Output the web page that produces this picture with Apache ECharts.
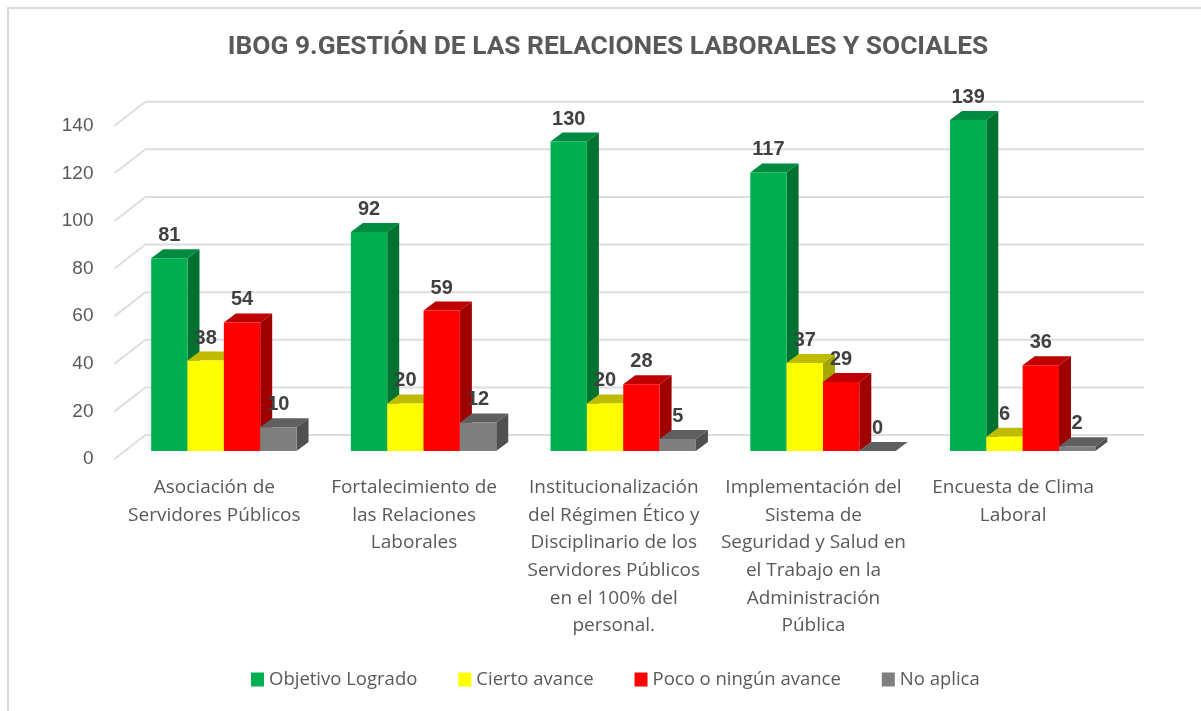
<!DOCTYPE html>
<html>
<head>
    <meta charset="utf-8">
    <title>IBOG 9</title>
    <script src="https://cdn.jsdelivr.net/npm/echarts@6/dist/echarts.min.js"></script>
    <style>
        html, body { margin: 0; padding: 0; background: #fff; }
    </style>
</head>
<body>
    <div id="chartmain" style="width:1201px; height:711px;"></div>
<script type="text/javascript">
    var categories = [
        'Asociación de\nServidores Públicos',
        'Fortalecimiento de\nlas Relaciones\nLaborales',
        'Institucionalización\ndel Régimen Ético y\nDisciplinario de los\nServidores Públicos\nen el 100% del\npersonal.',
        'Implementación del\nSistema de\nSeguridad y Salud en\nel Trabajo en la\nAdministración\nPública',
        'Encuesta de Clima\nLaboral'
    ];
    var logrado = [81, 92, 130, 117, 139];
    var cierto = [38, 20, 20, 37, 6];
    var poco = [54, 59, 28, 29, 36];
    var noAplica = [10, 12, 5, 0, 2];
    var yTicks = [0, 20, 40, 60, 80, 100, 120, 140];

    var faces = [
        { front: '#00B050', top: '#008A3F', side: '#00722F' },
        { front: '#FFFF00', top: '#BFBB00', side: '#A6A600' },
        { front: '#FF0000', top: '#BF0000', side: '#9F0000' },
        { front: '#7F7F7F', top: '#5F5F5F', side: '#505050' }
    ];

    // fake 3D: the floor runs 31px right and 24px up behind the axis
    var wallX = 31, wallY = -24;
    var barShiftX = 9.5, barShiftY = -8;
    var depthX = 12, depthY = -9;

    function poly(points, color, z2) {
        return { type: 'polygon', shape: { points: points }, style: { fill: color }, z2: z2 || 0, silent: true };
    }

    function barSeries(name, values, idx) {
        return {
            name: name,
            type: 'custom',
            itemStyle: { color: faces[idx].front },
            encode: { x: 0, y: 1 },
            data: values.map(function (v, i) { return [i, v]; }),
            z: 3,
            renderItem: function (params, api) {
                var band = api.size([1, 0])[0];
                var w = band * 0.182;
                var c = api.value(0);
                var val = api.value(1);
                var x0 = api.coord([c, 0])[0] + barShiftX - 2 * w + idx * w;
                var x1 = x0 + w;
                var yb = api.coord([c, 0])[1] + barShiftY;
                var yt = api.coord([c, val])[1] + barShiftY;
                var f = faces[idx];
                return {
                    type: 'group',
                    children: [
                        poly([[x1, yb], [x1 + depthX, yb + depthY], [x1 + depthX, yt + depthY], [x1, yt]], f.side),
                        poly([[x0, yt], [x0 + depthX, yt + depthY], [x1 + depthX, yt + depthY], [x1, yt]], f.top),
                        poly([[x0, yb], [x1, yb], [x1, yt], [x0, yt]], f.front),
                        {
                            type: 'text',
                            z2: 100,
                            silent: true,
                            style: {
                                text: String(val),
                                x: (x0 + x1) / 2,
                                y: yt - 22.5,
                                align: 'center',
                                verticalAlign: 'middle',
                                fill: '#404040',
                                font: 'bold 20px "Liberation Sans"'
                            }
                        }
                    ]
                };
            }
        };
    }

    var wallSeries = {
        type: 'custom',
        silent: true,
        z: 1,
        encode: { y: 0 },
        data: yTicks.map(function (t) { return [t]; }),
        renderItem: function (params, api) {
            var rect = params.coordSys;
            var y = api.coord([0, api.value(0)])[1];
            return {
                type: 'polyline',
                silent: true,
                shape: { points: [[rect.x, y], [rect.x + wallX, y + wallY], [rect.x + rect.width + wallX, y + wallY]] },
                style: { fill: null, stroke: '#DEDEDE', lineWidth: 2 }
            };
        }
    };

    var myChart = echarts.init(document.getElementById('chartmain'));
    myChart.setOption({
        animation: false,
        backgroundColor: '#fff',
        title: {
            text: 'IBOG 9.GESTIÓN DE LAS RELACIONES LABORALES Y SOCIALES',
            left: 603,
            top: 29,
            textAlign: 'center',
            textStyle: { fontFamily: 'Roboto', fontWeight: 'bold', fontSize: 26.3, color: '#595959' }
        },
        legend: {
            left: 246,
            top: 665,
            itemWidth: 13,
            itemHeight: 14,
            itemGap: 41,
            icon: 'rect',
            textStyle: { fontFamily: 'Open Sans', fontSize: 18.5, color: '#595959' },
            data: ['Objetivo Logrado', 'Cierto avance', 'Poco o ningún avance', 'No aplica']
        },
        grid: { left: 114.5, top: 125.7, width: 998.5, height: 333.3 },
        xAxis: {
            type: 'category',
            data: categories,
            axisLine: { show: false },
            axisTick: { show: false },
            axisLabel: {
                interval: 0,
                margin: 15,
                lineHeight: 27.6,
                fontFamily: 'Open Sans',
                fontSize: 19,
                color: '#595959'
            }
        },
        yAxis: {
            type: 'value',
            min: 0,
            max: 140,
            interval: 20,
            axisLine: { show: false },
            axisTick: { show: false },
            splitLine: { show: false },
            axisLabel: { margin: 21, padding: [2, 0, 0, 0], fontFamily: 'Liberation Sans', fontSize: 19, color: '#595959' }
        },
        graphic: [{
            type: 'polyline',
            silent: true,
            shape: { points: [[8, 711], [8, 8], [1201, 8]] },
            style: { fill: null, stroke: '#D9D9D9', lineWidth: 2 }
        }],
        series: [
            wallSeries,
            barSeries('Objetivo Logrado', logrado, 0),
            barSeries('Cierto avance', cierto, 1),
            barSeries('Poco o ningún avance', poco, 2),
            barSeries('No aplica', noAplica, 3)
        ]
    });
</script>
</body>
</html>
